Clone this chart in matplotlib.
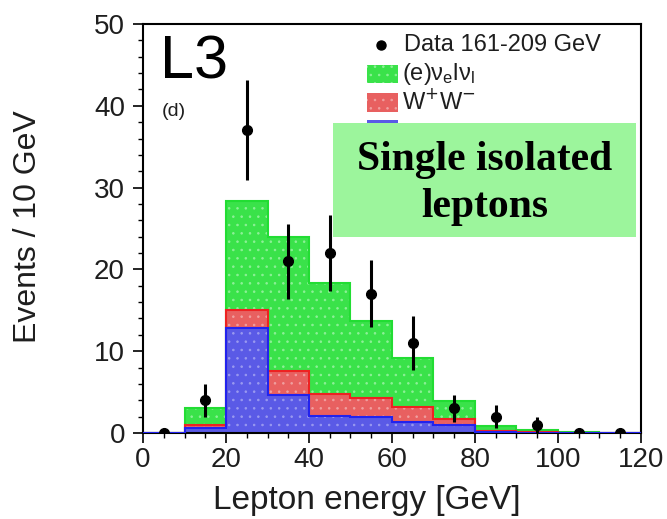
import matplotlib
matplotlib.use("Agg")
import matplotlib.pyplot as plt
import numpy as np
from matplotlib.patches import Rectangle
from matplotlib.ticker import MultipleLocator

plt.rcParams['font.family'] = ['Liberation Sans', 'DejaVu Sans']
plt.rcParams['hatch.linewidth'] = 0.6

bin_edges = [0, 10, 20, 30, 40, 50, 60, 70, 80, 90, 100, 110, 120]
# stacked totals
total_green = [0.0, 3.0, 28.4, 24.0, 18.3, 13.7, 9.2, 3.9, 0.8, 0.35, 0.1, 0.05]
total_red = [0.0, 1.0, 15.0, 7.6, 4.8, 4.3, 3.2, 1.7, 0.3, 0.15, 0.05, 0.0]
blue_vals = [0.0, 0.65, 12.8, 4.6, 2.1, 2.0, 1.4, 1.0, 0.1, 0.05, 0.0, 0.0]

data_x = [5, 15, 25, 35, 45, 55, 65, 75, 85, 95, 105, 115]
data_y = [0, 4, 37, 21, 22, 17, 11, 3, 2, 1, 0, 0]
data_err = [0, 2.0, 6.1, 4.6, 4.7, 4.1, 3.3, 1.7, 1.4, 1.0, 0, 0]

GREEN = '#3ae24a'
RED = '#e86060'
BLUE = '#5a5ae6'
TXT = '#1e1e1e'

fig = plt.figure(figsize=(6.67, 5.19), dpi=100)
ax = fig.add_axes([0.2144, 0.1657, 0.7466, 0.7881])

def step_fill(vals, color, hatchcol, edge):
    ax.stairs(vals, bin_edges, fill=True, facecolor=color, edgecolor=hatchcol,
              linewidth=0, hatch='..', zorder=2)
    ax.stairs(vals, bin_edges, fill=False, edgecolor=edge, linewidth=1.5, zorder=3)

step_fill(total_green, GREEN, '#8ef098', '#22dd33')
step_fill(total_red, RED, '#f0a0a0', '#ee2222')
step_fill(blue_vals, BLUE, '#9a9af0', '#2222ee')

ax.errorbar(data_x, data_y, yerr=data_err, fmt='o', color='black',
            markersize=7, elinewidth=2.2, capsize=0, zorder=5)

ax.set_xlim(0, 120)
ax.set_ylim(0, 50)
ax.xaxis.set_major_locator(MultipleLocator(20))
ax.xaxis.set_minor_locator(MultipleLocator(5))
ax.yaxis.set_major_locator(MultipleLocator(10))
ax.yaxis.set_minor_locator(MultipleLocator(2))
ax.tick_params(which='major', direction='out', length=7, width=1.2, labelsize=20, labelcolor=TXT)
ax.tick_params(which='minor', direction='out', length=3.5, width=1.0)
ax.tick_params(axis='x', which='major', pad=3)
ax.tick_params(axis='y', which='major', pad=6)
for s in ax.spines.values():
    s.set_linewidth(1.5)

ax.set_xlabel('Lepton energy [GeV]', fontsize=24, color=TXT)
ax.set_ylabel('Events / 10 GeV', fontsize=23, color=TXT)
ax.xaxis.set_label_coords(0.449, -0.128)
ax.yaxis.set_label_coords(-0.200, 0.505)

ax.text(0.035, 0.975, 'L3', transform=ax.transAxes, fontsize=44, va='top', ha='left')
ax.text(0.038, 0.785, '(d)', transform=ax.transAxes, fontsize=14, va='center', ha='left', color=TXT)

# legend (manual)
ax.plot([57.3], [47.4], 'o', color='black', markersize=6.5, zorder=6)
ax.text(63.0, 47.4, 'Data 161-209 GeV', fontsize=17, va='center', ha='left', color=TXT)
ax.add_patch(Rectangle((54.0, 42.8), 7.5, 2.2, facecolor=GREEN, edgecolor='#8ef098',
                       linewidth=0, hatch='..', zorder=6))
ax.text(62.5, 43.9, r'(e)$\mathregular{\nu_e}$l$\mathregular{\nu_l}$', fontsize=17, va='center', ha='left', color=TXT)
ax.add_patch(Rectangle((54.0, 39.3), 7.5, 2.3, facecolor=RED, edgecolor='#f0a0a0',
                       linewidth=0, hatch='..', zorder=6))
ax.text(62.5, 40.5, r'W$^{+}$W$^{-}$', fontsize=17, va='center', ha='left', color=TXT)
ax.add_patch(Rectangle((54.0, 37.5), 7.5, 0.8, facecolor=BLUE, edgecolor='none', zorder=6))

# overlaid label box
fig.patches.append(Rectangle((333/667, (519-237)/519), (636-333)/667, (237-123)/519,
                             transform=fig.transFigure, facecolor='#9cf59c', edgecolor='none', zorder=10))
fig.text((333+636)/2/667, (519-160)/519, 'Single isolated', fontsize=30, fontweight='bold',
         family='Liberation Serif', ha='center', va='center', zorder=11)
fig.text((333+636)/2/667, (519-207)/519, 'leptons', fontsize=30, fontweight='bold',
         family='Liberation Serif', ha='center', va='center', zorder=11)

fig.savefig('out.png', dpi=100)
